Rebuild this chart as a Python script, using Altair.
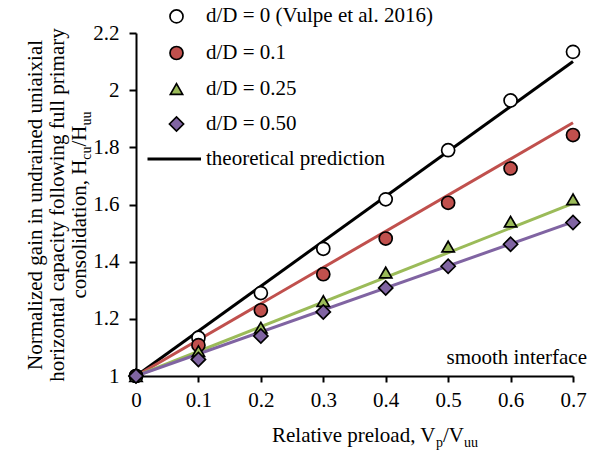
import altair as alt
import pandas as pd

# ---------------- data ----------------
preload = [0, 0.1, 0.2, 0.3, 0.4, 0.5, 0.6, 0.7]
gain_d0 = [1, 1.134, 1.29, 1.445, 1.618, 1.79, 1.964, 2.134]
gain_d01 = [1, 1.108, 1.23, 1.356, 1.481, 1.606, 1.726, 1.843]
gain_d025 = [1, 1.087, 1.169, 1.262, 1.362, 1.453, 1.54, 1.618]
gain_d050 = [1, 1.058, 1.14, 1.224, 1.308, 1.384, 1.461, 1.537]

series_names = ["d/D = 0 (Vulpe et al. 2016)", "d/D = 0.1", "d/D = 0.25", "d/D = 0.50"]
series_values = [gain_d0, gain_d01, gain_d025, gain_d050]
fills = ["white", "#c0504d", "#9bbb59", "#8064a2"]
shapes = ["circle", "circle", "triangle-up", "diamond"]
sizes = [170, 170, 150, 200]
line_colors = ["black", "#c0504d", "#9bbb59", "#8064a2"]

theory_x = [0, 0.7]
theory_start = [1, 1, 1, 1]
theory_end = [2.1, 1.886, 1.604, 1.539]

x_ticks = [0, 0.1, 0.2, 0.3, 0.4, 0.5, 0.6, 0.7]
y_ticks = [1, 1.2, 1.4, 1.6, 1.8, 2, 2.2]

FONT = "Liberation Serif"
FS = 21
SUB = 14

xs = alt.Scale(domain=[0, 0.7], nice=False, zero=False)
ys = alt.Scale(domain=[1, 2.2], nice=False, zero=False)

x_axis = alt.Axis(values=x_ticks, format=".1~f", title=None, grid=False,
                  labelFont=FONT, labelFontSize=FS, labelColor="black",
                  domainColor="black", domainWidth=2, tickColor="black",
                  tickWidth=2, tickSize=6, labelPadding=7, labelFlush=False)
y_axis = alt.Axis(values=y_ticks, format=".1~f", title=None, grid=False,
                  labelFont=FONT, labelFontSize=FS, labelColor="black",
                  domainColor="black", domainWidth=2, tickColor="black",
                  tickWidth=2, tickSize=7, labelPadding=10, labelFlush=False)

layers = []

# theoretical prediction lines
for i in range(4):
    df = pd.DataFrame({"x": theory_x, "y": [theory_start[i], theory_end[i]]})
    layers.append(
        alt.Chart(df).mark_line(color=line_colors[i], strokeWidth=3).encode(
            x=alt.X("x:Q", scale=xs, axis=x_axis),
            y=alt.Y("y:Q", scale=ys, axis=y_axis),
        )
    )

# data markers
for i in range(4):
    df = pd.DataFrame({"x": preload, "y": series_values[i]})
    layers.append(
        alt.Chart(df).mark_point(shape=shapes[i], filled=True, fill=fills[i],
                                 stroke="black", strokeWidth=1.7,
                                 size=sizes[i], opacity=1).encode(
            x=alt.X("x:Q", scale=xs, axis=x_axis),
            y=alt.Y("y:Q", scale=ys, axis=y_axis),
        )
    )


def text(label, x, y, size=FS, align="left", baseline="alphabetic", angle=0):
    kw = dict(font=FONT, fontSize=size, align=align, baseline=baseline, color="black")
    if angle:
        kw["angle"] = angle
    return alt.Chart(pd.DataFrame({"t": [label]})).mark_text(**kw).encode(
        text="t:N", x=alt.value(x), y=alt.value(y))


# legend
legend_rows = [-16.6, 20, 56, 91]
for i in range(4):
    ly = legend_rows[i]
    layers.append(
        alt.Chart(pd.DataFrame({"t": [series_names[i]]})).mark_point(
            shape=shapes[i], filled=True, fill=fills[i], stroke="black",
            strokeWidth=1.7, size=sizes[i], opacity=1).encode(
            x=alt.value(40.5), y=alt.value(ly))
    )
    layers.append(text(series_names[i], 70, ly, baseline="middle"))

layers.append(
    alt.Chart(pd.DataFrame({"t": ["theoretical prediction"]})).mark_rule(
        color="black", strokeWidth=3).encode(
        x=alt.value(11.5), x2=alt.value(65), y=alt.value(126))
)
layers.append(text("theoretical prediction", 70, 126, baseline="middle"))

# annotation
layers.append(text("smooth interface", 451, 331, align="right"))

# x-axis title with subscripts
layers.append(text("Relative preload, V", 136, 409))
layers.append(text("p", 300, 414, size=SUB))
layers.append(text("/V", 307, 409))
layers.append(text("uu", 328, 414, size=SUB))

# y-axis title (rotated, three lines)
layers.append(text("Normalized gain in undrained uniaixial", -94.5, 172, align="center", angle=270))
layers.append(text("horizontal capacity following full primary", -72.5, 172, align="center", angle=270))
layers.append(text("consolidation, H", -50.5, 265.5, angle=270))
layers.append(text("cu", -45.5, 126.7, size=SUB, angle=270))
layers.append(text("/H", -50.5, 113.5, angle=270))
layers.append(text("uu", -45.5, 92.5, size=SUB, angle=270))

chart = alt.layer(*layers).properties(
    width=437, height=343,
    autosize=alt.AutoSizeParams(type="none"),
    padding={"left": 136, "top": 33, "right": 27, "bottom": 78},
    background="white",
).configure_view(stroke=None)

chart.save("out.html", embed_options={"renderer": "svg", "actions": False})
